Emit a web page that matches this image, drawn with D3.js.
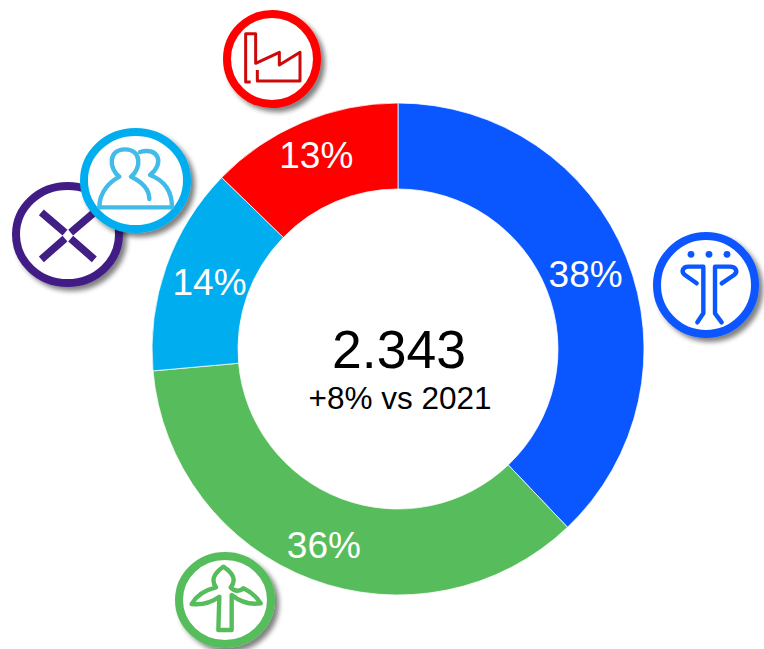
<!DOCTYPE html>
<html><head><meta charset="utf-8">
<script src="https://cdn.jsdelivr.net/npm/d3@7"></script>
<style>html,body{margin:0;padding:0;background:#fff}svg{display:block}text{font-family:"Liberation Sans",Arial,sans-serif}</style>
</head><body><svg id="c" width="764" height="649"></svg>
<script>
const categories = ["Blue","Wind","People","Industry"];
const values = [888, 836, 321, 298];
const sliceColors = ["#0A57FF","#57BD5C","#00AEEF","#FF0000"];
const labelRadii = [202, 210, 200, 210];
const totalLabel = "2.343";
const subLabel = "+8% vs 2021";

const W=764,H=649,cx=398,cy=349,R=246,r=160;
const svg=d3.select("#c");
const defs=svg.append("defs");
const f=defs.append("filter").attr("id","sh").attr("x","-30%").attr("y","-30%").attr("width","170%").attr("height","170%");
f.append("feGaussianBlur").attr("in","SourceAlpha").attr("stdDeviation",2.5).attr("result","b");
f.append("feOffset").attr("in","b").attr("dx",4).attr("dy",4).attr("result","o");
f.append("feComponentTransfer").attr("in","o").attr("result","s").append("feFuncA").attr("type","linear").attr("slope",0.5);
const m=f.append("feMerge");m.append("feMergeNode").attr("in","s");m.append("feMergeNode").attr("in","SourceGraphic");

const total=d3.sum(values);
const pie=d3.pie().sort(null).startAngle(0).endAngle(2*Math.PI)(values);
const arc=d3.arc().innerRadius(r).outerRadius(R);
const g=svg.append("g").attr("transform",`translate(${cx},${cy})`);
g.selectAll("path").data(pie).join("path").attr("d",arc)
 .attr("fill",(d,i)=>sliceColors[i]).attr("stroke","#fff").attr("stroke-width",0.75);
const pct=d3.format(".0%");
g.selectAll("text").data(pie).join("text")
 .attr("transform",(d,i)=>{const a=(d.startAngle+d.endAngle)/2;return `translate(${labelRadii[i]*Math.sin(a)},${-labelRadii[i]*Math.cos(a)})`;})
 .attr("text-anchor","middle").attr("dy","0.35em").attr("fill","#fff").attr("font-size",37)
 .text(d=>pct(d.value/total));
g.append("text").attr("x",1).attr("y",19).attr("text-anchor","middle").attr("font-size",53.5).attr("fill","#000").text(totalLabel);
g.append("text").attr("x",2).attr("y",60).attr("text-anchor","middle").attr("font-size",31.5).attr("fill","#000").text(subLabel);

function mk(x,y,rx,ry,sw,col){
  const b=svg.append("g").attr("transform",`translate(${x},${y})`);
  b.append("ellipse").attr("rx",rx-sw/2).attr("ry",ry-sw/2).attr("fill","#fff").attr("stroke",col).attr("stroke-width",sw).attr("filter","url(#sh)");
  b.datum({x,y});
  return b;
}
// icon paths were traced in 3x crop coordinates
function traced(b,ox,oy,d,col,w,cap){
  return b.append("path").attr("transform",`translate(${ox-b.datum().x},${oy-b.datum().y}) scale(${1/3})`).attr("d",d)
    .attr("fill","none").attr("stroke",col).attr("stroke-width",w*3).attr("stroke-linecap",cap||"round").attr("stroke-linejoin","round");
}

let b=mk(67.5,234.5,55.5,52.5,8,"#421F85");
traced(b,0,0,"M124,637L195,698M283,778L212,716M124,778L195,716M283,637L212,698","#421F85",7.5,"butt");
b=mk(135.5,180.5,55.5,52.5,8,"#00AEEF");
traced(b,0,0,"M298,622L516,622M298,622C298,575 330,545 358,530C325,505 325,448 375,448C425,448 425,505 393,530C425,545 448,565 448,597M420,456C475,440 495,490 450,525C490,540 516,570 516,622","#41BBE8",4.4);
b=mk(272,59,49,49,8,"#FF0000");
traced(b,0,0,"M752,246L737,246L737,101L767,101L767,190L838,157L838,195L900,157L900,243L772,243L772,210","#CC0A0A",3,"butt");
b=mk(706,285,53,53,8,"#0A57FF");
traced(b,640,225,"M190,125L145,125C128,125 122,140 135,150L170,175M225,125L270,125C288,125 295,140 282,150L245,175M190,125L190,265L172,292M225,125L225,265L245,292","#0A57FF",4.4);
b.selectAll("circle.dot").data([153,207,261]).join("circle").attr("class","dot").attr("cx",d=>640-706+d/3).attr("cy",225-285+88/3).attr("r",3.4).attr("fill","#0A57FF");
b=mk(225,600,50,48,8,"#57BD5C");
traced(b,190,550,"M5,162C20,135 45,120 78,112C62,90 72,70 100,50C130,70 140,90 122,112C135,125 150,125 160,115C180,125 200,140 212,160C180,165 150,155 125,135L125,240L85,240L88,140C60,160 30,165 5,162Z","#57BD5C",4.4);
</script></body></html>
